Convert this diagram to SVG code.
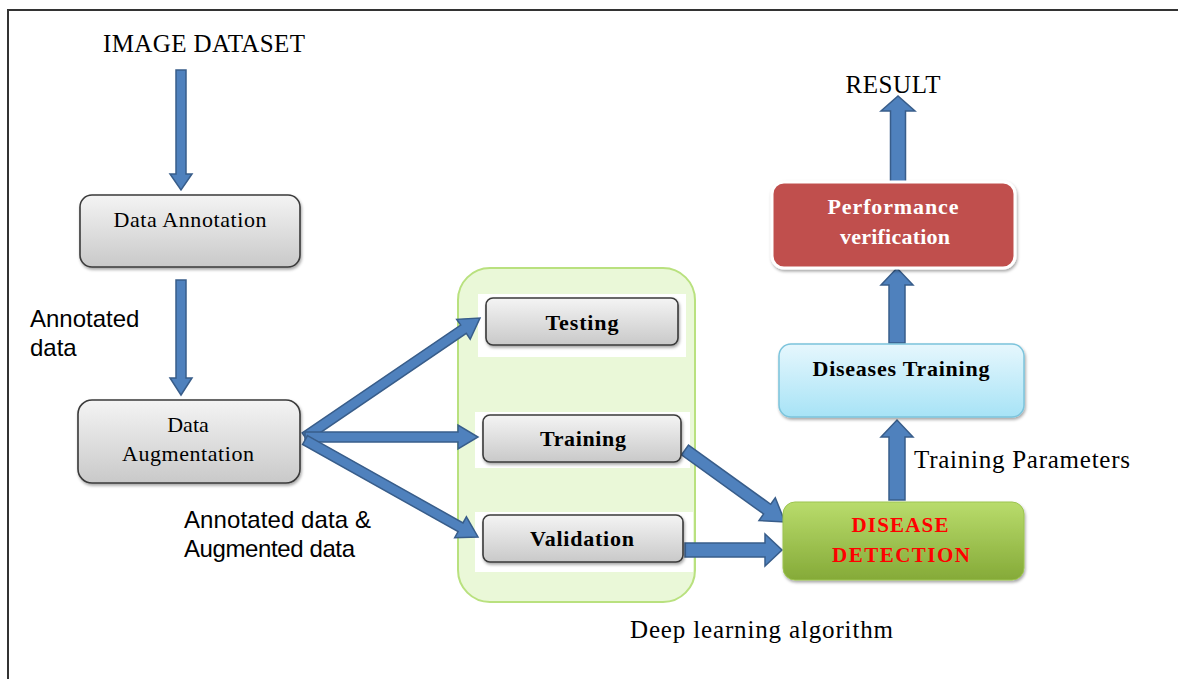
<svg xmlns="http://www.w3.org/2000/svg" width="1178" height="679" viewBox="0 0 1178 679">
<style>
.serif{font-family:"Liberation Serif","Times New Roman",serif;fill:#000}
.sans{font-family:"Liberation Sans",Arial,sans-serif;fill:#000}
.gray{fill:url(#gGray);stroke:#3a3a3a;stroke-width:1.6}
.arrow{fill:#4f81bd;stroke:#385d8a;stroke-width:1.5;stroke-linejoin:miter}
.bold{font-weight:bold}
</style>
<defs>
<linearGradient id="gGray" x1="0" y1="0" x2="0" y2="1">
<stop offset="0" stop-color="#f4f4f4"/><stop offset="1" stop-color="#c9c9c9"/>
</linearGradient>
<linearGradient id="gGreen" x1="0" y1="0" x2="0" y2="1">
<stop offset="0" stop-color="#b9dc6c"/><stop offset="1" stop-color="#85aa38"/>
</linearGradient>
<linearGradient id="gBlue" x1="0" y1="0" x2="0" y2="1">
<stop offset="0" stop-color="#e6f7fd"/><stop offset="1" stop-color="#a7e3f6"/>
</linearGradient>
<filter id="sh" x="-10%" y="-10%" width="125%" height="130%">
<feDropShadow dx="1" dy="2" stdDeviation="1.5" flood-color="#000" flood-opacity="0.35"/>
</filter>
</defs>
<rect width="1178" height="679" fill="#fff"/>
<path d="M8 679 V10 H1178" fill="none" stroke="#333" stroke-width="2"/>

<g id="container">
<rect x="458" y="268" width="237" height="334" rx="32" fill="#eaf8d8" stroke="#b9e17f" stroke-width="2"/>
<rect x="478" y="294" width="208" height="63" fill="#fff"/>
<rect x="475" y="412" width="215" height="56" fill="#fff"/>
<rect x="475" y="512" width="218" height="60" fill="#fff"/>
</g>

<g id="connectors">
<polygon class="arrow" points="176,70 186,70 186,174 192,174 181,190 170,174 176,174"/>
<polygon class="arrow" points="176,280 186,280 186,378 192,378 181,395 170,378 176,378"/>
<polygon class="arrow" points="302.2,432.9 460.7,325.1 456.7,319.3 480,318 470.2,339.2 466.3,333.4 307.8,441.1"/>
<polygon class="arrow" points="305,432 458,432 458,425 478,437 458,449 458,442 305,442"/>
<polygon class="arrow" points="307.5,435.6 463.0,522.9 466.4,516.8 478,537 454.7,537.7 458.1,531.6 302.6,444.4"/>
<polygon class="arrow" points="688.5,445.1 770.7,504.3 775.3,497.8 785,522 759.0,520.5 763.6,514.0 681.5,454.9"/>
<polygon class="arrow" points="685,543 765,543 765,534 782,550 765,566 765,557 685,557"/>
<polygon class="arrow" points="889,500 905,500 905,437 913,437 897,420 881,437 889,437"/>
<polygon class="arrow" points="889,343 905,343 905,285 913,285 897,268 881,285 889,285"/>
<polygon class="arrow" points="890.5,182 905.5,182 905.5,111 915,111 898,96 881,111 890.5,111"/>
</g>

<g id="image-dataset">
<text class="serif" x="204" y="52" font-size="25" text-anchor="middle" textLength="202">IMAGE DATASET</text>
</g>

<g id="data-annotation">
<rect class="gray" x="80" y="195" width="220" height="72" rx="12" filter="url(#sh)"/>
<text class="serif" x="190" y="227" font-size="22" text-anchor="middle" textLength="153">Data Annotation</text>
</g>

<g id="annotated-data-label">
<text class="sans" x="30" y="327" font-size="24">Annotated</text>
<text class="sans" x="30" y="356" font-size="24">data</text>
</g>

<g id="data-augmentation">
<rect class="gray" x="78" y="400" width="222" height="83" rx="14" filter="url(#sh)"/>
<text class="serif" x="188" y="432" font-size="22" text-anchor="middle">Data</text>
<text class="serif" x="188" y="461" font-size="22" text-anchor="middle" textLength="132">Augmentation</text>
</g>

<g id="augmented-label">
<text class="sans" x="184" y="528" font-size="24" textLength="187">Annotated data &amp;</text>
<text class="sans" x="184" y="557" font-size="24" textLength="171">Augmented data</text>
</g>

<g id="testing">
<rect class="gray" x="486" y="298" width="192" height="47" rx="7" filter="url(#sh)"/>
<text class="serif bold" x="582" y="330" font-size="22" text-anchor="middle" textLength="73">Testing</text>
</g>

<g id="training">
<rect class="gray" x="483" y="415" width="198" height="47" rx="7" filter="url(#sh)"/>
<text class="serif bold" x="583" y="446" font-size="22" text-anchor="middle" textLength="86">Training</text>
</g>

<g id="validation">
<rect class="gray" x="483" y="515" width="200" height="47" rx="7" filter="url(#sh)"/>
<text class="serif bold" x="582" y="546" font-size="22" text-anchor="middle" textLength="104">Validation</text>
</g>

<g id="deep-learning-label">
<text class="serif" x="630" y="638" font-size="25" textLength="263">Deep learning algorithm</text>
</g>

<g id="disease-detection">
<rect x="783" y="502" width="241" height="78" rx="12" fill="url(#gGreen)" stroke="#9cc450" stroke-width="1" filter="url(#sh)"/>
<text class="serif bold" x="900" y="532" font-size="21" text-anchor="middle" style="fill:#ff0000" textLength="97">DISEASE</text>
<text class="serif bold" x="901" y="562" font-size="21" text-anchor="middle" style="fill:#ff0000" textLength="138">DETECTION</text>
</g>

<g id="training-parameters-label">
<text class="serif" x="914" y="468" font-size="25" textLength="216">Training Parameters</text>
</g>

<g id="diseases-training">
<rect x="779" y="344" width="245" height="73" rx="12" fill="url(#gBlue)" stroke="#7cc4dc" stroke-width="1.5" filter="url(#sh)"/>
<text class="serif bold" x="901" y="376" font-size="22" text-anchor="middle" textLength="177">Diseases Training</text>
</g>

<g id="performance-verification">
<rect x="772" y="182" width="243" height="86" rx="12" fill="#c0504d" stroke="#fff" stroke-width="3" filter="url(#sh)"/>
<text class="serif bold" x="893" y="214" font-size="22" text-anchor="middle" style="fill:#fff" textLength="131">Performance</text>
<text class="serif bold" x="895" y="244" font-size="22" text-anchor="middle" style="fill:#fff" textLength="110">verification</text>
</g>

<g id="result">
<text class="serif" x="893" y="93" font-size="25" text-anchor="middle" textLength="95">RESULT</text>
</g>
</svg>
